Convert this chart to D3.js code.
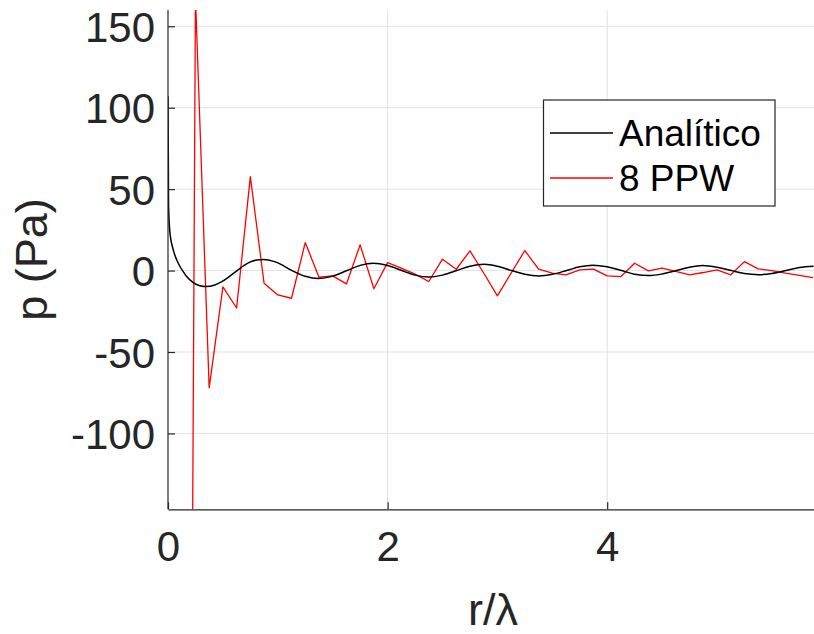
<!DOCTYPE html>
<html>
<head>
<meta charset="utf-8">
<script src="https://cdn.jsdelivr.net/npm/d3@7"></script>
<style>
  html, body { margin: 0; padding: 0; background: #fff; }
  svg { display: block; font-family: "Liberation Sans", Arial, Helvetica, sans-serif; }
</style>
</head>
<body>
<svg id="chart" width="814" height="634"></svg>
<script>
// ---- data ----
const analyticX = [0, 0.005, 0.018, 0.048, 0.08, 0.109, 0.14, 0.17, 0.23, 0.29, 0.35, 0.42, 0.49, 0.56, 0.63, 0.69, 0.75, 0.81, 0.87, 0.99, 1.13, 1.25, 1.37, 1.50, 1.63, 1.75, 1.87, 2.00, 2.13, 2.25, 2.38, 2.50, 2.63, 2.75, 2.88, 3.00, 3.13, 3.25, 3.38, 3.50, 3.63, 3.75, 3.87, 4.00, 4.13, 4.25, 4.38, 4.50, 4.63, 4.75, 4.87, 5.00, 5.13, 5.25, 5.38, 5.50, 5.63, 5.75, 5.88];
const analyticY = [107, 40, 23, 12.7, 6.5, 2.5, -0.8, -3.7, -7.4, -9.3, -9.8, -9.0, -6.8, -3.6, 0, 3.0, 5.3, 6.5, 6.8, 5.0, 0, -3.5, -4.9, -3.4, 0, 3.2, 4.5, 3.1, 0, -2.8, -4.0, -2.8, 0, 2.7, 3.8, 2.6, 0, -2.3, -3.3, -2.3, 0, 2.3, 3.3, 2.3, 0, -2.2, -3.1, -2.1, 0, 2.1, 3.1, 2.1, 0, -1.8, -2.5, -1.8, 0, 1.9, 2.7];

const ppwX = [0.125, 0.25, 0.375, 0.5, 0.625, 0.75, 0.875, 1.0, 1.125, 1.25, 1.375, 1.5, 1.625, 1.75, 1.875, 2.0, 2.125, 2.25, 2.375, 2.5, 2.625, 2.75, 2.875, 3.0, 3.125, 3.25, 3.375, 3.5, 3.625, 3.75, 3.875, 4.0, 4.125, 4.25, 4.375, 4.5, 4.625, 4.75, 4.875, 5.0, 5.125, 5.25, 5.375, 5.5, 5.625, 5.75, 5.875];
const ppwY = [-1400, 168, -72, -10, -23, 57.7, -7.8, -15, -17, 17.2, -4.1, -3.3, -8.2, 15.8, -11.2, 4.9, 1.5, -2.2, -6.7, 7.0, 0.8, 12.1, -1.5, -15.5, -1.6, 12.3, 0.9, -1.6, -2.6, 0.4, 0.9, -3.3, -3.7, 4.5, -0.2, 1.5, -0.5, -2.6, -1.2, 0.4, -2.6, 5.5, 1.0, 0, -1.6, -3.0, -4.4];

const xTicks = [0, 2, 4];
const yTicks = [-100, -50, 0, 50, 100, 150];
const seriesNames = ["Analítico", "8 PPW"];
const seriesColors = ["#000000", "#ff0000"];
const xDomain = [0, 5.92];
const yDomain = [-146.6, 160];

// ---- layout ----
const svg = d3.select("#chart");
const L = 168, R = 818, T = 10, B = 509.3;
const axisColor = "#262626";
const gridColor = "#e3e3e3";

const x = d3.scaleLinear().domain(xDomain).range([L, R]);
const y = d3.scaleLinear().domain(yDomain).range([B, T]);

svg.append("defs").append("clipPath").attr("id", "clip")
  .append("rect").attr("x", L).attr("y", T).attr("width", R - L).attr("height", B - T);

// grid
const grid = svg.append("g");
grid.selectAll(".gx").data(xTicks.filter(d => d !== 0)).enter().append("line")
  .attr("x1", d => x(d)).attr("x2", d => x(d)).attr("y1", T).attr("y2", B)
  .attr("stroke", gridColor).attr("stroke-width", 1);
grid.selectAll(".gy").data(yTicks).enter().append("line")
  .attr("x1", L).attr("x2", R).attr("y1", d => y(d)).attr("y2", d => y(d))
  .attr("stroke", gridColor).attr("stroke-width", 1);

// lines
const plot = svg.append("g").attr("clip-path", "url(#clip)");
const analytic = analyticX.map((d, i) => [d, analyticY[i]]);
const ppw = ppwX.map((d, i) => [d, ppwY[i]]);

plot.append("path").datum(ppw)
  .attr("fill", "none").attr("stroke", seriesColors[1]).attr("stroke-width", 1.3)
  .attr("stroke-linejoin", "round")
  .attr("d", d3.line().x(d => x(d[0])).y(d => y(d[1])));

plot.append("path").datum(analytic)
  .attr("fill", "none").attr("stroke", seriesColors[0]).attr("stroke-width", 1.5)
  .attr("d", d3.line().curve(d3.curveMonotoneX).x(d => x(d[0])).y(d => y(d[1])));

// axes
const xAxis = d3.axisBottom(x).tickValues(xTicks).tickSizeInner(-7).tickSizeOuter(0).tickPadding(22).tickFormat(d3.format("d"));
const yAxis = d3.axisLeft(y).tickValues(yTicks).tickSizeInner(-7).tickSizeOuter(0).tickPadding(13).tickFormat(d => d < 0 ? "-" + Math.abs(d) : String(d));

const gx = svg.append("g").attr("transform", `translate(0,${B})`).call(xAxis);
const gy = svg.append("g").attr("transform", `translate(${L},0)`).call(yAxis);
[gx, gy].forEach(g => {
  g.select(".domain").attr("stroke", axisColor).attr("stroke-width", 1.2);
  g.selectAll(".tick line").attr("stroke", axisColor).attr("stroke-width", 1.2);
  g.selectAll(".tick text").attr("fill", axisColor).style("font-size", "42px")
    .style("font-family", '"Liberation Sans", Arial, sans-serif');
});
gy.select(".domain").attr("d", `M0,${T}V${B}`);
gy.selectAll(".tick text").attr("dy", "0.36em");
gx.selectAll(".tick text").attr("dy", "0.71em");

// axis labels
svg.append("text").attr("x", 493).attr("y", 625).attr("text-anchor", "middle")
  .attr("fill", axisColor).style("font-size", "45px").text("r/λ");
svg.append("text").attr("transform", "translate(47,259.5) rotate(-90)").attr("text-anchor", "middle")
  .attr("fill", axisColor).style("font-size", "45px").text("p (Pa)");

// legend
const lg = svg.append("g");
lg.append("rect").attr("x", 543.5).attr("y", 100).attr("width", 231.5).attr("height", 106)
  .attr("fill", "#fff").attr("stroke", axisColor).attr("stroke-width", 1.2);
const rows = [133, 178];
seriesNames.forEach((name, i) => {
  lg.append("line").attr("x1", 550).attr("x2", 613).attr("y1", rows[i]).attr("y2", rows[i])
    .attr("stroke", seriesColors[i]).attr("stroke-width", 1.3);
  lg.append("text").attr("x", 619).attr("y", rows[i]).attr("dy", "0.36em")
    .attr("fill", "#000").style("font-size", "37px").text(name);
});
</script>
</body>
</html>
